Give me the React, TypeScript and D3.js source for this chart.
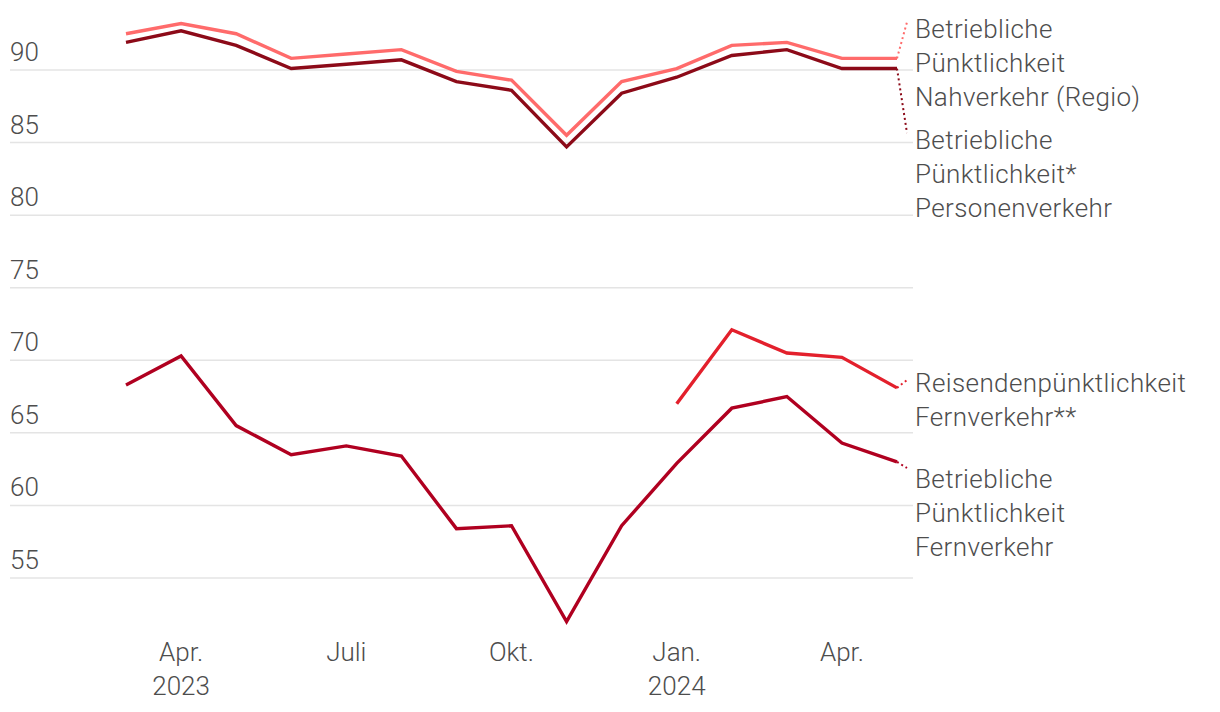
import React from 'react';
import * as d3 from 'd3';

// months from März 2023 to Mai 2024
const months = [
  '2023-03', '2023-04', '2023-05', '2023-06', '2023-07', '2023-08', '2023-09', '2023-10',
  '2023-11', '2023-12', '2024-01', '2024-02', '2024-03', '2024-04', '2024-05',
];

const nahverkehr = [92.5, 93.2, 92.5, 90.8, 91.1, 91.4, 89.9, 89.3, 85.5, 89.2, 90.1, 91.7, 91.9, 90.8, 90.8];
const personenverkehr = [91.9, 92.7, 91.7, 90.1, 90.4, 90.7, 89.2, 88.6, 84.7, 88.4, 89.5, 91.0, 91.4, 90.1, 90.1];
const reisendenFern = [null, null, null, null, null, null, null, null, null, null, 67.0, 72.1, 70.5, 70.2, 68.1];
const fernBetrieb = [68.3, 70.3, 65.5, 63.5, 64.1, 63.4, 58.4, 58.6, 52.0, 58.6, 62.9, 66.7, 67.5, 64.3, 63.0];

const yTicks = [55, 60, 65, 70, 75, 80, 85, 90];
const xTicks = [
  { month: '2023-04', label: 'Apr.', year: '2023' },
  { month: '2023-07', label: 'Juli', year: '' },
  { month: '2023-10', label: 'Okt.', year: '' },
  { month: '2024-01', label: 'Jan.', year: '2024' },
  { month: '2024-04', label: 'Apr.', year: '' },
];

const series = [
  { name: 'nah', values: nahverkehr, color: '#ff6b6b', label: ['Betriebliche', 'Pünktlichkeit', 'Nahverkehr (Regio)'], labelY: 38, anchorY: 22 },
  { name: 'pers', values: personenverkehr, color: '#8c0a18', label: ['Betriebliche', 'Pünktlichkeit*', 'Personenverkehr'], labelY: 149, anchorY: 133 },
  { name: 'reis', values: reisendenFern, color: '#e3202c', label: ['Reisendenpünktlichkeit', 'Fernverkehr**'], labelY: 392, anchorY: 380 },
  { name: 'fern', values: fernBetrieb, color: '#b00020', label: ['Betriebliche', 'Pünktlichkeit', 'Fernverkehr'], labelY: 488, anchorY: 468 },
];

const W = 1220;
const H = 712;
const textColor = '#4d4d4d';
const font = 'Roboto, "Noto Sans", sans-serif';

export default function App() {
  const x = d3.scalePoint<string>().domain(months).range([126, 897]);
  const y = d3.scaleLinear().domain([55, 90]).range([578, 70]);

  const line = d3
    .line<number | null>()
    .defined((d) => d != null)
    .x((d, i) => x(months[i]) as number)
    .y((d) => y(d as number));

  const lastX = x(months[months.length - 1]) as number;

  return (
    <div style={{ position: 'fixed', left: 0, top: 0, width: W, height: H, background: '#fff' }}>
      <svg width={W} height={H} style={{ display: 'block', fontFamily: font }}>
        {yTicks.map((t) => (
          <g key={t}>
            <line x1={10} x2={913} y1={y(t)} y2={y(t)} stroke="#e4e4e4" strokeWidth={1.5} />
            <text x={10} y={y(t) - 9} fontSize={26} fontWeight={300} fill={textColor}>
              {t}
            </text>
          </g>
        ))}

        {series.map((s) => (
          <path key={s.name} d={line(s.values) || ''} fill="none" stroke={s.color} strokeWidth={3.4} strokeLinejoin="miter" />
        ))}

        {series.map((s) => {
          const last = s.values[s.values.length - 1] as number;
          return (
            <g key={s.name + '-lab'}>
              <line
                x1={lastX}
                y1={y(last)}
                x2={lastX + 10}
                y2={s.anchorY}
                stroke={s.color}
                strokeWidth={2}
                strokeDasharray="2,3"
              />
              {s.label.map((l, i) => (
                <text key={i} x={915} y={s.labelY + i * 34} fontSize={26} fontWeight={300} letterSpacing={0.4} fill={textColor}>
                  {l}
                </text>
              ))}
            </g>
          );
        })}

        {xTicks.map((t) => {
          const cx = x(t.month) as number;
          return (
            <g key={t.month}>
              <text x={cx} y={661} textAnchor="middle" fontSize={26} fontWeight={300} fill={textColor}>
                {t.label}
              </text>
              {t.year && (
                <text x={cx} y={695} textAnchor="middle" fontSize={26} fontWeight={300} fill={textColor}>
                  {t.year}
                </text>
              )}
            </g>
          );
        })}
      </svg>
    </div>
  );
}
